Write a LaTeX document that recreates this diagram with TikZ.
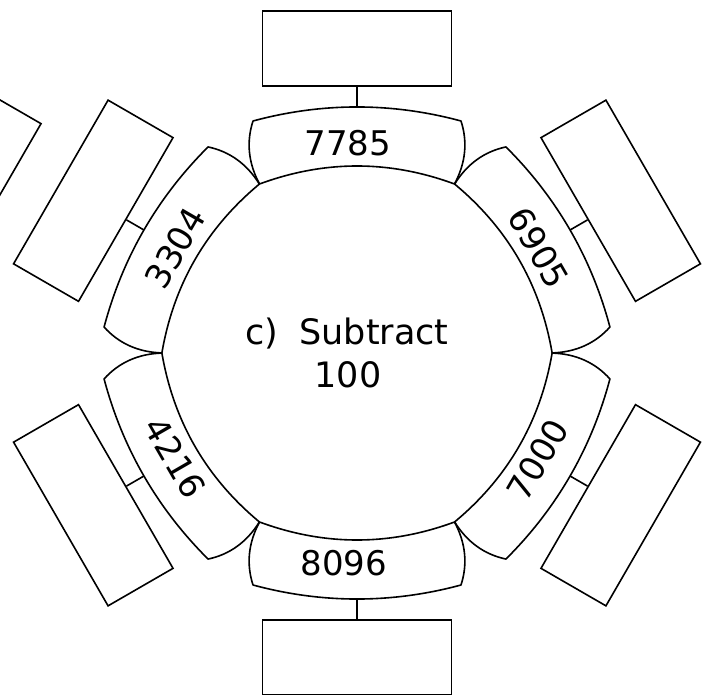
\documentclass[tikz,border=0pt]{standalone}
\usepackage{fontspec}
\setmainfont{DejaVu Sans}
\begin{document}
\begin{tikzpicture}[x=1pt, y=1pt,
    edge/.style={line width=1.6pt, line join=round},
    box/.style={draw, line width=1.6pt, rectangle, inner sep=0pt,
      minimum width=189pt, minimum height=75pt},
    num/.style={font=\fontsize{34}{40}\selectfont, inner sep=0pt},
    lab/.style={font=\fontsize{35}{42}\selectfont, anchor=base, inner sep=0pt}
  ]
  \useasboundingbox (0,0) rectangle (706,694);
  \clip (0,0) rectangle (706,694);
  \coordinate (c) at (357,341);
  % six tabs round the hexagon, each with its empty box
  \foreach \a/\n/\r/\s/\k in {90/7785/0/-9/t, 30/6905/-60/0/tr, -30/7000/60/-2/br,
      -90/8096/0/-13/b, -150/4216/-60/0/bl, 150/3304/60/0/tl} {
    \begin{scope}[shift={(c)}, rotate=\a-90]
      \draw[edge] (-97.5,169) .. controls (-32.5,193) and (32.5,193) .. (97.5,169)
        .. controls (108.7,190) and (110.8,211) .. (104,232)
        .. controls (34.7,250.7) and (-34.7,250.7) .. (-104,232)
        .. controls (-110.8,211) and (-108.7,190) .. cycle;
      \coordinate (p\k) at (0,246);
      \node[num, rotate=\r, xshift=\s] (n\k) at (0,210) {\n};
      \node[box, rotate=\a-90] (r\k) at (0,304.5) {};
    \end{scope}
    \draw[edge] (p\k) -- (r\k.south);
  }
  % box of the neighbouring figure, cut by the margin
  \node[box, rotate=60] (rprev) at (-38.7,507.25) {};
  \node[lab] (title) at (347,349) {c)\hspace{0.6em}Subtract};
  \node[lab] (amount) at (348,307) {100};
\end{tikzpicture}
\end{document}
